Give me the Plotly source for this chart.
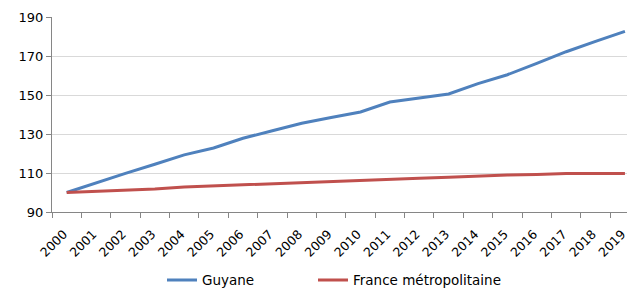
import plotly.graph_objects as go

years = [str(y) for y in range(2000, 2020)]
guyane = [100, 105.0, 109.8, 114.5, 119.3, 122.8, 127.8, 131.7, 135.5, 138.5,
          141.3, 146.4, 148.5, 150.5, 155.8, 160.4, 166.2, 172.2, 177.5, 182.6]
france = [100, 100.6, 101.2, 101.8, 102.8, 103.4, 104.0, 104.6, 105.2, 105.7,
          106.2, 106.7, 107.3, 107.8, 108.4, 109.0, 109.2, 109.7, 109.8, 109.8]
y_ticks = [90, 110, 130, 150, 170, 190]

FONT = "DejaVu Sans"
fig = go.Figure()
fig.add_trace(go.Scatter(x=years, y=guyane, mode="lines", name="Guyane",
                         line=dict(color="#4F81BD", width=3), legend="legend"))
fig.add_trace(go.Scatter(x=years, y=france, mode="lines", name="France métropolitaine",
                         line=dict(color="#C0504D", width=3), legend="legend2"))

leg_common = dict(orientation="h", xref="container", yref="container",
                  xanchor="left", yanchor="middle", font=dict(size=13.5),
                  bgcolor="rgba(0,0,0,0)")
fig.update_layout(
    width=627, height=289,
    margin=dict(l=52, r=0, t=17, b=77),
    paper_bgcolor="white", plot_bgcolor="white",
    font=dict(family=FONT, size=13, color="#000000"),
    showlegend=True,
    legend=dict(x=162 / 627, y=0.03, **leg_common),
    legend2=dict(x=313 / 627, y=0.03, **leg_common),
    xaxis=dict(type="category", range=[-0.5, 19.07], tickangle=-45,
               tickson="boundaries", ticks="outside", ticklen=5,
               tickcolor="#868686", showline=True, linecolor="#868686",
               linewidth=1, showgrid=False, automargin=False,
               ticklabelstandoff=9, ticklabelshift=-3,
               tickfont=dict(size=12.5)),
    yaxis=dict(range=[90, 190], tickvals=y_ticks, ticks="outside", ticklen=5,
               tickcolor="#868686", showline=True, linecolor="#868686",
               linewidth=1, showgrid=True, gridcolor="#D9D9D9", gridwidth=1,
               zeroline=False, automargin=False, tickfont=dict(size=13)),
)
fig.write_html("out.html", config={"displayModeBar": False},
               post_script="document.body.style.margin='0';document.body.style.padding='0';")
